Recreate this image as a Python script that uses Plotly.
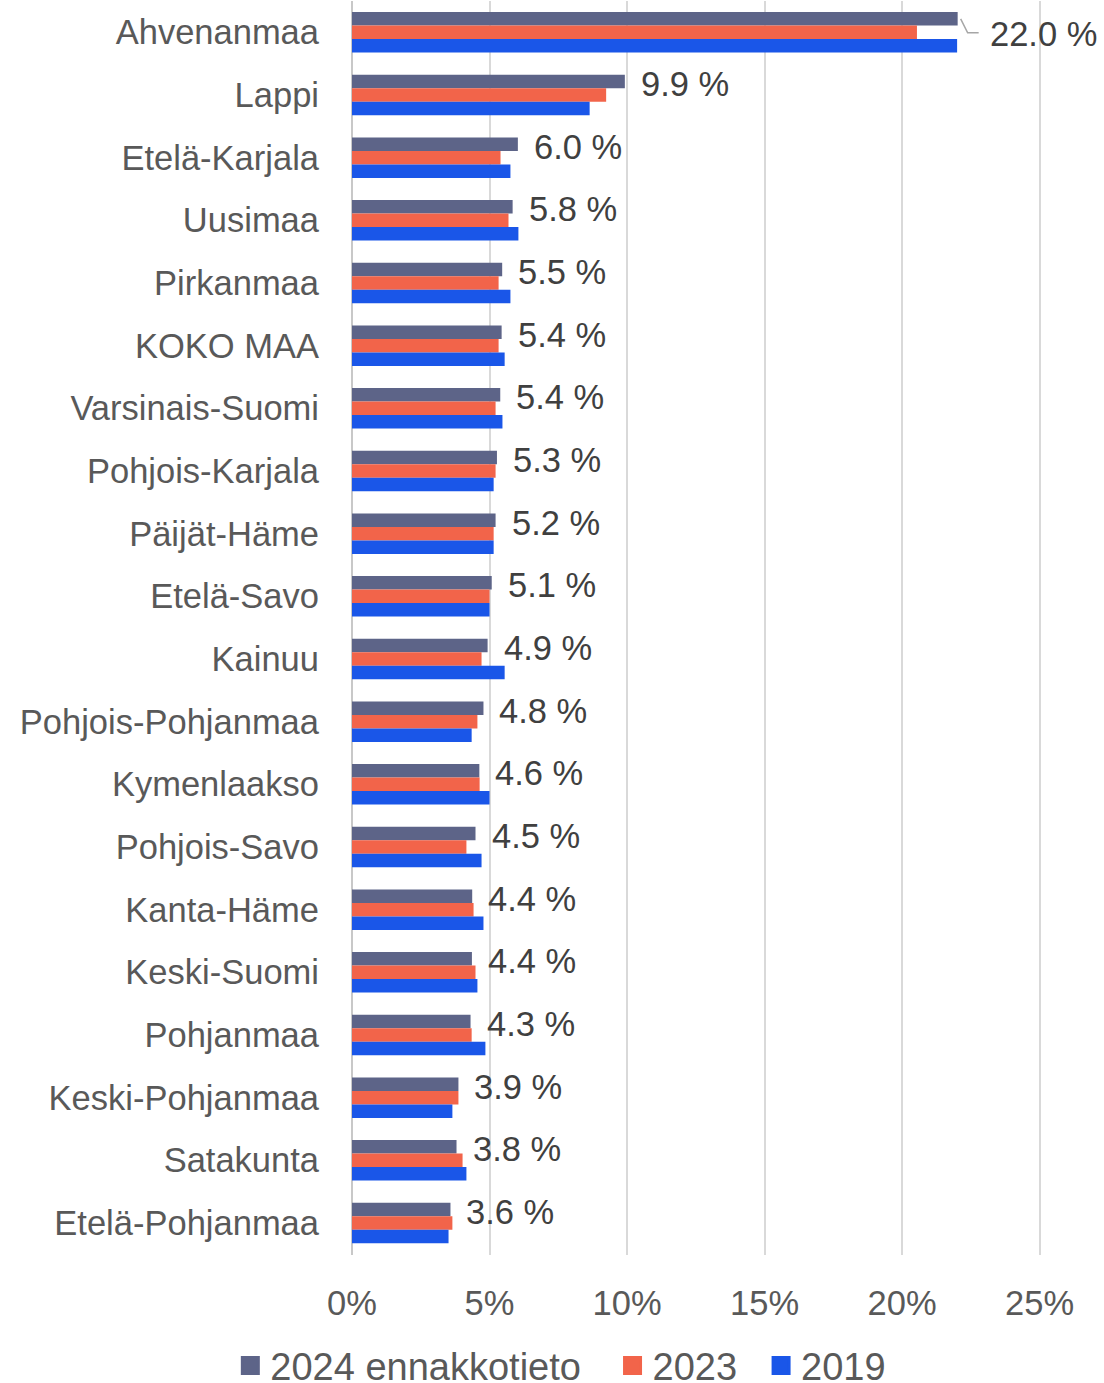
import plotly.graph_objects as go

categories = ["Ahvenanmaa", "Lappi", "Etelä-Karjala", "Uusimaa", "Pirkanmaa", "KOKO MAA",
              "Varsinais-Suomi", "Pohjois-Karjala", "Päijät-Häme", "Etelä-Savo", "Kainuu",
              "Pohjois-Pohjanmaa", "Kymenlaakso", "Pohjois-Savo", "Kanta-Häme", "Keski-Suomi",
              "Pohjanmaa", "Keski-Pohjanmaa", "Satakunta", "Etelä-Pohjanmaa"]

v2024 = [22.02, 9.92, 6.03, 5.84, 5.46, 5.44, 5.39, 5.27, 5.22, 5.08, 4.93, 4.78, 4.63,
         4.49, 4.37, 4.36, 4.31, 3.87, 3.80, 3.58]
v2023 = [20.54, 9.24, 5.40, 5.69, 5.33, 5.33, 5.22, 5.22, 5.15, 5.00, 4.71, 4.56, 4.64,
         4.16, 4.42, 4.49, 4.35, 3.87, 4.02, 3.65]
v2019 = [22.00, 8.64, 5.76, 6.05, 5.76, 5.55, 5.47, 5.15, 5.15, 5.00, 5.55, 4.35, 5.00,
         4.71, 4.78, 4.56, 4.85, 3.65, 4.16, 3.51]

series_names = ["2024 ennakkotieto", "2023", "2019"]
series_colors = ["#5D6488", "#F2644A", "#1A56E8"]
legend_pad = ["\u2002\u2009", "\u2002", ""]
x_ticks = [0, 5, 10, 15, 20, 25]
x_tick_labels = ["0%", "5%", "10%", "15%", "20%", "25%"]

FONT = "Liberation Sans, Arial, sans-serif"

fig = go.Figure()
for name, vals, col in zip(series_names, [v2024, v2023, v2019], series_colors):
    fig.add_trace(go.Bar(y=categories, x=vals, orientation="h", name=name,
                         marker=dict(color=col, line=dict(width=0)), showlegend=False))
# legend swatches
for name, pad, col in zip(series_names, legend_pad, series_colors):
    fig.add_trace(go.Scatter(x=[None], y=[None], mode="markers", name=name + pad,
                             marker=dict(symbol="square", size=16, color=col,
                                         line=dict(color=col, width=3)),
                             showlegend=True))

annotations = []
for i, (cat, v) in enumerate(zip(categories, v2024)):
    first = i == 0
    annotations.append(dict(x=v, y=cat, xref="x", yref="y", text=f"{v:.1f} %",
                            showarrow=False, xanchor="left", yanchor="middle",
                            xshift=30 if first else 14, yshift=-2 if first else 11,
                            font=dict(family=FONT, size=34.5, color="#404040")))

shapes = [dict(type="path", xref="x", yref="y", xsizemode="pixel", ysizemode="pixel",
               xanchor=v2024[0], yanchor=0,
               path="M 3,13.5 L 10,-0.5 L 21,-0.5",
               line=dict(color="#A6A6A6", width=1.5))]

fig.update_layout(
    width=1104, height=1383,
    margin=dict(l=352, r=63, t=1, b=128),
    plot_bgcolor="white", paper_bgcolor="white",
    barmode="group", bargap=0.354, bargroupgap=0,
    font=dict(family=FONT, color="#595959"),
    xaxis=dict(range=[0, 25.05], tickvals=x_ticks, ticktext=x_tick_labels,
               showgrid=True, gridcolor="#D9D9D9", gridwidth=2,
               zeroline=True, zerolinecolor="#C8C8C8", zerolinewidth=2,
               showline=False, ticks="", ticklabelstandoff=24,
               tickfont=dict(family=FONT, size=34.5, color="#595959"), fixedrange=True),
    yaxis=dict(autorange="reversed", showgrid=False, zeroline=False, showline=False,
               ticks="", ticklabelstandoff=32,
               tickfont=dict(family=FONT, size=34.5, color="#595959")),
    legend=dict(orientation="h", xref="container", yref="container", x=0.508, y=0.0125,
                xanchor="center", yanchor="middle",
                font=dict(family=FONT, size=38, color="#595959"),
                itemsizing="trace", tracegroupgap=0),
    annotations=annotations,
    shapes=shapes,
)

fig.write_html("out.html", config={"displayModeBar": False},
               post_script="document.body.style.margin='0';")
